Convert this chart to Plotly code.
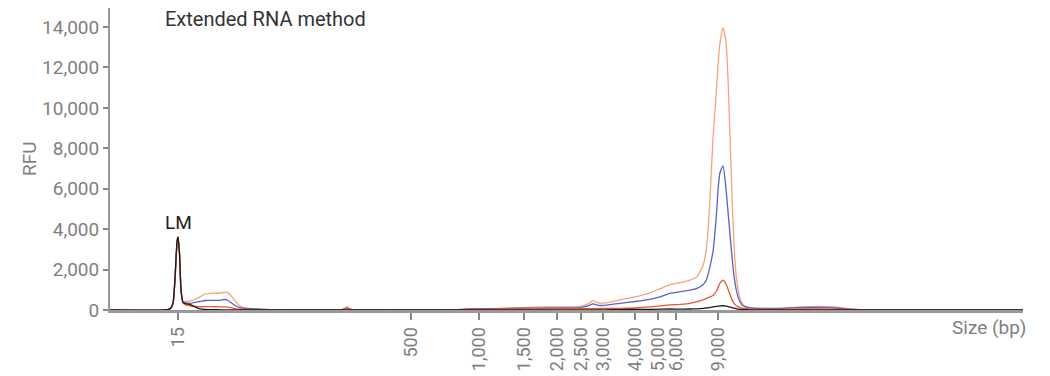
import plotly.graph_objects as go

# Migration position (arbitrary units along the run) of each sample point
migration = [0, 55, 60, 63, 65, 67, 68, 69.5, 71, 73, 76, 80, 85, 90, 95, 100, 105, 110, 115, 118,
             122, 126, 130, 135, 145, 155, 165, 230, 234, 237, 240, 245, 340, 360, 390, 410, 440,
             470, 478, 483, 488, 495, 510, 525, 540, 550, 560, 570,
             580, 587, 593, 596, 598, 600, 603, 606.7, 608.3, 610, 613, 616, 618.3, 621.7, 624,
             626.7, 630, 633.3, 640,
             650, 670, 690, 710, 725, 740, 752, 760, 913]

rfu_orange = [0, 0, 50, 300, 1500, 3300, 3600, 2800, 1000, 450, 420, 450, 520, 650, 780, 820, 830,
              830, 880, 850, 650, 400, 200, 100, 50, 30, 10, 0, 60, 150, 50, 0, 0, 50, 80, 120, 150,
              180, 300, 480, 350, 350, 500, 650, 850, 1050, 1250, 1350,
              1480, 1650, 2200, 2900, 3900, 5500, 8500, 11050, 12300, 13200, 13950, 13300, 11050,
              6100, 3200, 1480, 600, 250, 120,
              80, 80, 150, 180, 150, 60, 10, 0, 0]
rfu_blue = [0, 0, 50, 300, 1500, 3300, 3600, 2800, 1000, 380, 350, 330, 380, 420, 470, 480, 480,
            480, 520, 470, 330, 200, 120, 80, 60, 30, 10, 0, 50, 100, 40, 0, 0, 50, 70, 90, 100,
            120, 200, 300, 230, 230, 330, 420, 530, 650, 820, 900,
            980, 1070, 1250, 1450, 1750, 2150, 2900, 4900, 6100, 6800, 7130, 6000, 4700, 2800,
            1700, 900, 400, 200, 100,
            80, 80, 120, 130, 100, 40, 10, 0, 0]
rfu_red = [0, 0, 50, 300, 1500, 3300, 3600, 2800, 1000, 350, 250, 200, 180, 160, 170, 170, 160,
           150, 150, 140, 100, 60, 40, 30, 20, 10, 5, 0, 40, 80, 30, 0, 0, 40, 50, 50, 60, 70, 70,
           70, 70, 80, 80, 100, 150, 200, 250, 280,
           330, 410, 500, 560, 610, 650, 720, 950, 1150, 1330, 1480, 1300, 1000, 550, 330, 200,
           120, 80, 50,
           40, 40, 50, 50, 40, 20, 5, 0, 0]
rfu_black = [0, 0, 60, 350, 1600, 3400, 3620, 2800, 1000, 380, 300, 280, 150, 60, 30, 20, 15, 10,
             10, 10, 5, 5, 5, 0, 0, 0, 0, 0, 0, 0, 0, 0, 0, 0, 0, 0, 0, 0, 0, 10, 10, 10, 20, 30,
             30, 40, 50, 40,
             50, 60, 80, 100, 110, 120, 150, 180, 190, 200, 210, 190, 170, 120, 90, 60, 30, 20, 10,
             0, 0, 0, 0, 0, 0, 0, 0, 0]

# Ladder: size labels and their migration positions
ladder_pos = [68, 301, 369, 414, 446.7, 471, 493, 525, 548, 566, 608]
ladder_labels = ["15", "500", "1,000", "1,500", "2,000", "2,500", "3,000", "4,000", "5,000",
                 "6,000", "9,000"]

y_ticks = [0, 2000, 4000, 6000, 8000, 10000, 12000, 14000]

series = [
    ("Sample 1", rfu_orange, "#F9A275"),
    ("Sample 2", rfu_blue, "#5A61C6"),
    ("Sample 3", rfu_red, "#EE5430"),
    ("Sample 4", rfu_black, "#1a1a1a"),
]

fig = go.Figure()
for name, ys, col in series:
    fig.add_trace(go.Scatter(x=migration, y=ys, mode="lines", name=name,
                             line=dict(color=col, width=1.3, shape="spline", smoothing=0.5),
                             showlegend=False))

grey = "#7f7f7f"
fig.update_layout(
    width=1042, height=368,
    margin=dict(l=102, r=27, t=0, b=66),
    plot_bgcolor="white", paper_bgcolor="white",
    font=dict(family="Roboto", size=19, color=grey),
    xaxis=dict(range=[0, 913], tickmode="array", tickvals=ladder_pos, ticktext=ladder_labels,
               tickangle=-90, showgrid=False, zeroline=False, showline=True,
               linecolor="#999999", linewidth=3, ticks="outside", ticklen=7, tickwidth=1.5,
               tickcolor="#888888", tickfont=dict(size=18, color=grey)),
    yaxis=dict(range=[0, 14940], tickmode="array", tickvals=y_ticks, tickformat=",",
               showgrid=False, zeroline=False, showline=True, linecolor="#999999",
               linewidth=2, ticks="outside", ticklen=5, tickwidth=1.5, tickcolor="#888888",
               tickfont=dict(size=19, color=grey)),
    annotations=[
        dict(text="Extended RNA method", xref="paper", yref="paper", x=0.058, y=0.9636,
             xanchor="left", yanchor="middle", showarrow=False,
             font=dict(size=20, color="#333333")),
        dict(text="LM", x=68, y=4350, xref="x", yref="y", showarrow=False,
             xanchor="center", yanchor="middle", font=dict(size=19, color="#222222")),
        dict(text="Size (bp)", xref="paper", yref="paper", x=1.0055, y=-0.0596,
             xanchor="right", yanchor="middle", showarrow=False,
             font=dict(size=19, color=grey)),
        dict(text="RFU", xref="paper", yref="paper", x=-0.0887, y=0.5, textangle=-90,
             xanchor="center", yanchor="middle", showarrow=False,
             font=dict(size=19, color=grey)),
    ],
)

fig.write_html("out.html")
